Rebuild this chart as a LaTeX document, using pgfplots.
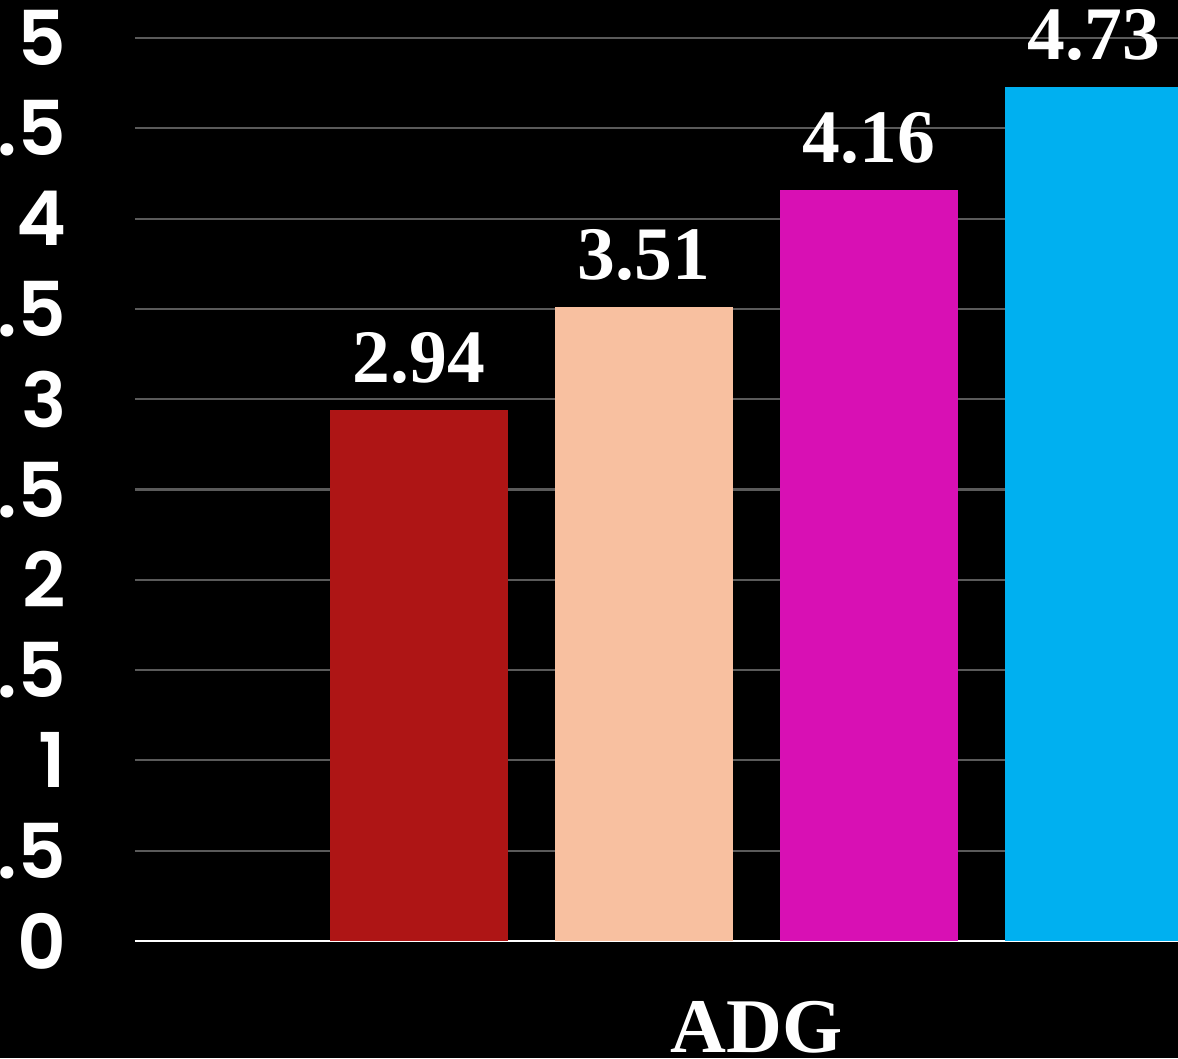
\documentclass[border=0pt]{standalone}
\usepackage{pgfplots}
\pgfplotsset{compat=1.18}
\usepackage{fontspec}
\setmainfont{Liberation Serif}
\newfontfamily\popfont{Poppins SemiBold}
\definecolor{c1}{RGB}{174,21,21}
\definecolor{c2}{RGB}{248,192,160}
\definecolor{c3}{RGB}{216,16,180}
\definecolor{c4}{RGB}{0,176,240}
\definecolor{gridgray}{RGB}{90,90,90}
\begin{document}
\begin{tikzpicture}[x=1cm,y=1cm]
\fill[black] (-1.35,-1.17) rectangle (10.43,9.41);
\begin{axis}[
  at={(0,0)}, anchor=south west,
  scale only axis, width=12.43cm, height=9.03cm,
  xmin=-0.2622, xmax=5.2622, ymin=0, ymax=5,
  ytick={0,0.5,1,1.5,2,2.5,3,3.5,4,4.5,5},
  xtick=\empty,
  ymajorgrids, grid style={color=gridgray, line width=0.6pt},
  axis x line*=bottom, axis y line*=left,
  x axis line style={white, line width=0.6pt, -},
  y axis line style={draw=none},
  major tick length=0pt,
  ybar, bar width=1.78cm, bar shift=0pt,
  clip=false,
  /pgf/number format/assume math mode=true,
  yticklabel style={font=\popfont\fontsize{21.5}{21.5}\selectfont, text=white, anchor=east, inner sep=0pt, xshift=-6.8mm},
  nodes near coords,
  nodes near coords style={font=\bfseries\fontsize{21.5}{21.5}\selectfont, text=white, yshift=1.4mm},
  xlabel={ADG},
  xlabel style={at={(axis description cs:0.5,0)}, anchor=base, yshift=-11.1mm, font=\bfseries\fontsize{22}{22}\selectfont, text=white},
]
\addplot[fill=c1, draw=none] coordinates {(1,2.94)};
\addplot[fill=c2, draw=none] coordinates {(2,3.51)};
\addplot[fill=c3, draw=none] coordinates {(3,4.16)};
\addplot[fill=c4, draw=none] coordinates {(4,4.73)};
\end{axis}
\pgfresetboundingbox
\useasboundingbox (-1.35,-1.17) rectangle (10.43,9.41);
\end{tikzpicture}
\end{document}
